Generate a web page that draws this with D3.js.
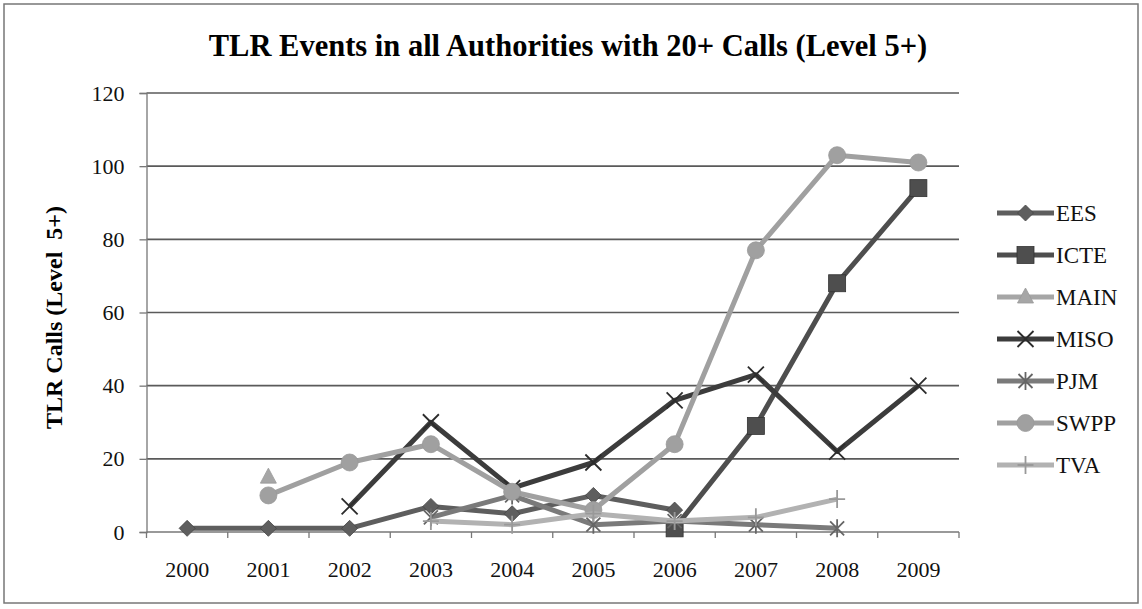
<!DOCTYPE html>
<html>
<head>
<meta charset="utf-8">
<script src="https://cdn.jsdelivr.net/npm/d3@7"></script>
<style>
  body { margin: 0; background: #fff; }
  svg { font-family: "Liberation Serif", "Times New Roman", serif; }
  .grid line { stroke: #5a5a5a; stroke-width: 1.6; }
  .axis path, .axis line { stroke: #777; stroke-width: 1.3; }
  .axis text { font-family: "Liberation Serif", "Times New Roman", serif; font-size: 22px; fill: #111; }
  .legend text { font-size: 23px; fill: #111; }
</style>
</head>
<body>
<div class="container"></div>
<script>
var years = ['2000', '2001', '2002', '2003', '2004', '2005', '2006', '2007', '2008', '2009'];
var yTicks = [0, 20, 40, 60, 80, 100, 120];

// TLR calls per authority, null = no data that year
var ees  = [1, 1, 1, 7, 5, 10, 6, null, null, null];
var icte = [null, null, null, null, null, null, 1, 29, 68, 94];
var main = [null, 15, null, null, null, null, null, null, null, null];
var miso = [null, null, 7, 30, 12, 19, 36, 43, 22, 40];
var pjm  = [null, null, null, 4, 10, 2, 3, 2, 1, null];
var swpp = [null, 10, 19, 24, 11, 6, 24, 77, 103, 101];
var tva  = [null, null, null, 3, 2, 5, 3, 4, 9, null];

var series = [
    {name: 'EES',  values: ees,  color: '#5e5e5e', marker: 'diamond'},
    {name: 'ICTE', values: icte, color: '#4e4e4e', marker: 'square'},
    {name: 'MAIN', values: main, color: '#a6a6a6', marker: 'triangle'},
    {name: 'MISO', values: miso, color: '#3c3c3c', marker: 'x'},
    {name: 'PJM',  values: pjm,  color: '#7a7a7a', marker: 'star'},
    {name: 'SWPP', values: swpp, color: '#a0a0a0', marker: 'circle'},
    {name: 'TVA',  values: tva,  color: '#b2b2b2', marker: 'plus'}
];

var W = 1142, H = 609;
var plot = {left: 146.5, right: 959, top: 93, bottom: 532};

var translate = (x, y) => `translate(${ x },${ y })`;

var svg = d3.select('.container').append('svg')
    .attr('width', W)
    .attr('height', H);

// chart frame
svg.append('rect')
    .attr('x', 4).attr('y', 4)
    .attr('width', W - 8).attr('height', 599)
    .attr('fill', 'none')
    .attr('stroke', '#777')
    .attr('stroke-width', 1.5);

var x = d3.scaleBand()
    .domain(years)
    .range([plot.left, plot.right]);

var y = d3.scaleLinear()
    .domain([0, 120])
    .range([plot.bottom, plot.top]);

var cx = i => x(years[i]) + x.bandwidth() / 2;

// gridlines
svg.append('g')
    .classed('grid', true)
    .selectAll('line')
    .data(yTicks.filter(d => d > 0))
    .enter().append('line')
    .attr('x1', plot.left).attr('x2', plot.right)
    .attr('y1', y).attr('y2', y);

// axes
var yAxis = d3.axisLeft(y).tickValues(yTicks).tickSize(7).tickPadding(15);
svg.append('g')
    .classed('axis', true)
    .attr('transform', translate(plot.left, 0))
    .call(yAxis);

var xAxis = d3.axisBottom(x).tickSize(0).tickPadding(29);
var gx = svg.append('g')
    .classed('axis', true)
    .attr('transform', translate(0, plot.bottom))
    .call(xAxis);
gx.select('.domain').attr('d', `M${plot.left},0H${plot.right}`);
// ticks between categories
gx.selectAll('.between')
    .data(d3.range(years.length + 1))
    .enter().append('line')
    .classed('between', true)
    .attr('x1', i => plot.left + i * x.step())
    .attr('x2', i => plot.left + i * x.step())
    .attr('y1', 0).attr('y2', 6);

// titles
svg.append('text')
    .attr('x', 568).attr('y', 56)
    .attr('text-anchor', 'middle')
    .attr('font-size', 30.5)
    .attr('font-weight', 'bold')
    .text('TLR Events in all Authorities with 20+ Calls (Level 5+)');

svg.append('text')
    .attr('transform', translate(62, (plot.top + plot.bottom) / 2 + 5) + ' rotate(-90)')
    .attr('text-anchor', 'middle')
    .attr('font-size', 24)
    .attr('font-weight', 'bold')
    .attr('xml:space', 'preserve')
    .text('TLR Calls (Level  5+)');

var drawMarker = (g, kind, color, px, py) => {
    var s = 8;
    if (kind === 'diamond') {
        g.append('path').attr('d', `M${px},${py - s}L${px + s},${py}L${px},${py + s}L${px - s},${py}Z`)
            .attr('fill', color).attr('stroke', '#444').attr('stroke-width', 0.8);
    } else if (kind === 'square') {
        g.append('rect').attr('x', px - 8.5).attr('y', py - 8.5).attr('width', 17).attr('height', 17)
            .attr('fill', color).attr('stroke', '#333').attr('stroke-width', 0.8);
    } else if (kind === 'triangle') {
        g.append('path').attr('d', `M${px},${py - 9}L${px + 8},${py + 6}L${px - 8},${py + 6}Z`)
            .attr('fill', color).attr('stroke', '#999').attr('stroke-width', 0.8);
    } else if (kind === 'circle') {
        g.append('circle').attr('cx', px).attr('cy', py).attr('r', 8.5)
            .attr('fill', color).attr('stroke', '#999').attr('stroke-width', 0.8);
    } else if (kind === 'x') {
        g.append('path').attr('d', `M${px - 8},${py - 8}L${px + 8},${py + 8}M${px + 8},${py - 8}L${px - 8},${py + 8}`)
            .attr('stroke', '#2c2c2c').attr('stroke-width', 1.8);
    } else if (kind === 'star') {
        g.append('path').attr('d', `M${px - 7},${py - 7}L${px + 7},${py + 7}M${px + 7},${py - 7}L${px - 7},${py + 7}M${px},${py - 9}L${px},${py + 9}`)
            .attr('stroke', '#666').attr('stroke-width', 1.8);
    } else if (kind === 'plus') {
        g.append('path').attr('d', `M${px - 8},${py}L${px + 8},${py}M${px},${py - 9}L${px},${py + 9}`)
            .attr('stroke', '#999').attr('stroke-width', 1.8);
    }
};

var line = d3.line()
    .defined(d => d.v != null)
    .x(d => cx(d.i))
    .y(d => y(d.v));

series.forEach(s => {
    var pts = s.values.map((v, i) => ({v: v, i: i}));
    var g = svg.append('g').classed(s.name, true);
    g.append('path')
        .attr('d', line(pts))
        .attr('fill', 'none')
        .attr('stroke', s.color)
        .attr('stroke-width', 5)
        .attr('stroke-linejoin', 'round');
    pts.filter(d => d.v != null)
        .forEach(d => drawMarker(g, s.marker, s.color, cx(d.i), y(d.v)));
});

// legend
var legend = svg.append('g').classed('legend', true);
series.forEach((s, i) => {
    var ly = 213 + i * 42;
    var g = legend.append('g');
    g.append('line')
        .attr('x1', 997).attr('x2', 1054)
        .attr('y1', ly).attr('y2', ly)
        .attr('stroke', s.color).attr('stroke-width', 5);
    drawMarker(g, s.marker, s.color, 1025.5, ly);
    g.append('text')
        .attr('x', 1056).attr('y', ly)
        .attr('dy', '0.35em')
        .text(s.name);
});
</script>
</body>
</html>
